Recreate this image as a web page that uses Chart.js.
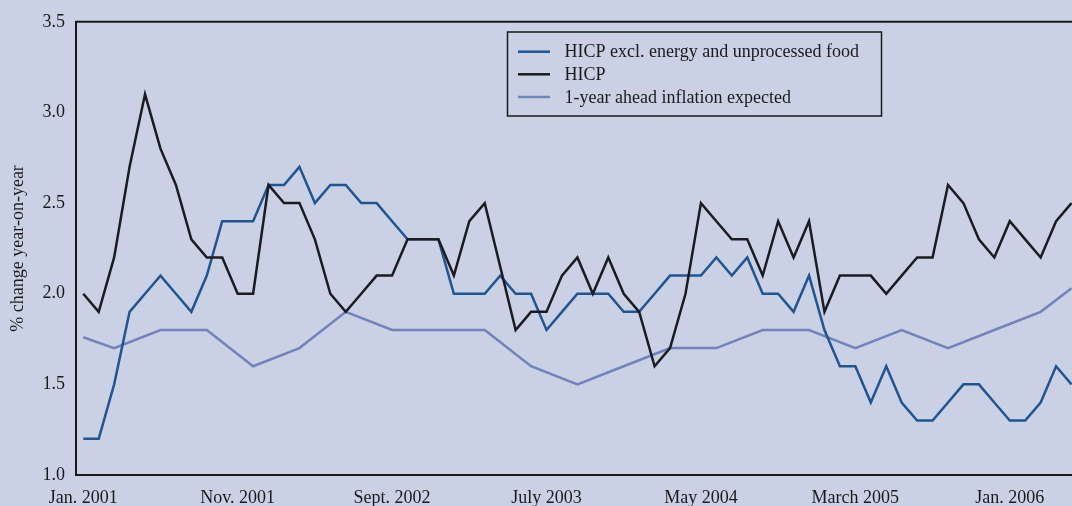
<!DOCTYPE html>
<html>
<head>
<meta charset="utf-8">
<script src="https://cdn.jsdelivr.net/npm/chart.js@4/dist/chart.umd.min.js"></script>
<style>
html,body{margin:0;padding:0;background:#CAD1E5;}
#wrap{width:1072px;height:506px;position:relative;}
</style>
</head>
<body>
<div id="wrap"><canvas id="c" width="1072" height="506"></canvas></div>
<script>
// ---- data (month index 0 = Jan. 2001) ----
const tickIdx    = [0, 10, 20, 30, 40, 50, 60];
const tickLabels = ['Jan. 2001', 'Nov. 2001', 'Sept. 2002', 'July 2003', 'May 2004', 'March 2005', 'Jan. 2006'];

const seriesNames = ['HICP excl. energy and unprocessed food', 'HICP', '1-year ahead inflation expected'];

const coreVals = [
  1.2,1.2,1.5,1.9,2.0,2.1,2.0,1.9,2.1,2.4,2.4,2.4,2.6,2.6,2.7,2.5,2.6,2.6,2.5,
  2.5,2.4,2.3,2.3,2.3,2.0,2.0,2.0,2.1,2.0,2.0,1.8,1.9,2.0,2.0,2.0,1.9,1.9,2.0,2.1,2.1,2.1,
  2.2,2.1,2.2,2.0,2.0,1.9,2.1,1.8,1.6,1.6,1.4,1.6,1.4,1.3,1.3,1.4,1.5,1.5,1.4,1.3,1.3,1.4,1.6,1.5
];
const hicpVals = [
  2.0,1.9,2.2,2.7,3.1,2.8,2.6,2.3,2.2,2.2,2.0,2.0,2.6,2.5,2.5,2.3,2.0,1.9,2.0,
  2.1,2.1,2.3,2.3,2.3,2.1,2.4,2.5,2.15,1.8,1.9,1.9,2.1,2.2,2.0,2.2,2.0,1.9,1.6,1.7,2.0,2.5,
  2.4,2.3,2.3,2.1,2.4,2.2,2.4,1.9,2.1,2.1,2.1,2.0,2.1,2.2,2.2,2.6,2.5,2.3,2.2,2.4,2.3,2.2,2.4,2.5
];
const expIdx  = [0, 2, 5, 8, 11, 14, 17, 20, 23, 26, 29, 32, 35, 38, 41, 44, 47, 50, 53, 56, 59, 62, 64];
const expVals = [1.76,1.7,1.8,1.8,1.6,1.7,1.9,1.8,1.8,1.8,1.6,1.5,1.6,1.7,1.7,1.8,1.8,1.7,1.8,1.7,1.8,1.9,2.03];

const seriesColors = ['#1F5592', '#1B1B22', '#7283BA'];

// ---- build chart data ----
const toPts = (vals) => vals.map((v, i) => ({x: i, y: v}));
const expPts = expIdx.map((m, k) => ({x: m, y: expVals[k]}));

const ink = '#1a1a1a';
const fontFam = '"Liberation Serif", "Times New Roman", serif';

const bgPlugin = {
  id: 'bg',
  beforeDraw(chart) {
    const ctx = chart.ctx;
    ctx.save();
    ctx.fillStyle = '#CAD1E5';
    ctx.fillRect(0, 0, chart.width, chart.height);
    ctx.restore();
  }
};

const framePlugin = {
  id: 'frame',
  afterDraw(chart) {
    const {ctx, chartArea: a} = chart;
    ctx.save();
    ctx.strokeStyle = ink;
    ctx.lineWidth = 2;
    ctx.beginPath();
    ctx.moveTo(a.left - 1, a.top);
    ctx.lineTo(a.right, a.top);
    ctx.stroke();
    ctx.restore();
  }
};

const legendPlugin = {
  id: 'boxLegend',
  afterDraw(chart) {
    const {ctx, chartArea: a} = chart;
    const bx = a.left + 431.5, by = 32, bw = 374, bh = 84;
    ctx.save();
    ctx.strokeStyle = ink;
    ctx.lineWidth = 1.5;
    ctx.strokeRect(bx, by, bw, bh);
    ctx.font = '18px ' + fontFam;
    ctx.textBaseline = 'middle';
    ctx.textAlign = 'left';
    const rows = [51.7, 74.3, 97];
    chart.data.datasets.forEach((ds, i) => {
      const y = rows[i];
      ctx.strokeStyle = ds.borderColor;
      ctx.lineWidth = 2.5;
      ctx.beginPath();
      ctx.moveTo(bx + 10.5, y);
      ctx.lineTo(bx + 42.5, y);
      ctx.stroke();
      ctx.fillStyle = ink;
      ctx.fillText(ds.label, bx + 57, y + 1);
    });
    ctx.restore();
  }
};

const dsCommon = {
  fill: false, tension: 0, pointRadius: 0, pointHoverRadius: 0,
  borderWidth: 2.5, borderJoinStyle: 'miter', spanGaps: true
};

new Chart(document.getElementById('c'), {
  type: 'line',
  data: {
    datasets: [
      Object.assign({label: seriesNames[0], data: toPts(coreVals), borderColor: seriesColors[0], order: 1}, dsCommon),
      Object.assign({label: seriesNames[1], data: toPts(hicpVals), borderColor: seriesColors[1], order: 0}, dsCommon),
      Object.assign({label: seriesNames[2], data: expPts, borderColor: seriesColors[2], order: 2}, dsCommon)
    ]
  },
  options: {
    responsive: false,
    animation: false,
    devicePixelRatio: 1,
    layout: {padding: {top: 20, right: 0, left: 0, bottom: 0}},
    plugins: {legend: {display: false}, tooltip: {enabled: false}},
    scales: {
      x: {
        type: 'linear',
        min: -0.47,
        max: 64.03,
        grid: {display: false, drawTicks: false},
        border: {display: true, color: ink, width: 2},
        afterBuildTicks(scale) { scale.ticks = tickIdx.map(v => ({value: v})); },
        afterFit(scale) { scale.height = 31; },
        ticks: {
          autoSkip: false, maxRotation: 0, minRotation: 0,
          padding: 12,
          color: ink,
          font: {family: fontFam, size: 18},
          callback: (v) => { const k = tickIdx.indexOf(v); return k >= 0 ? tickLabels[k] : ''; }
        }
      },
      y: {
        min: 1.0, max: 3.5,
        grid: {display: false, drawTicks: false},
        border: {display: true, color: ink, width: 2},
        afterFit(scale) { scale.width = 76; },
        ticks: {
          stepSize: 0.5, padding: 11, color: ink,
          font: {family: fontFam, size: 18},
          callback: (v) => Number(v).toFixed(1)
        },
        title: {
          display: true, text: '% change year-on-year', color: ink,
          font: {family: fontFam, size: 18},
          padding: {top: 7, bottom: 0}
        }
      }
    }
  },
  plugins: [bgPlugin, framePlugin, legendPlugin]
});
</script>
</body>
</html>
